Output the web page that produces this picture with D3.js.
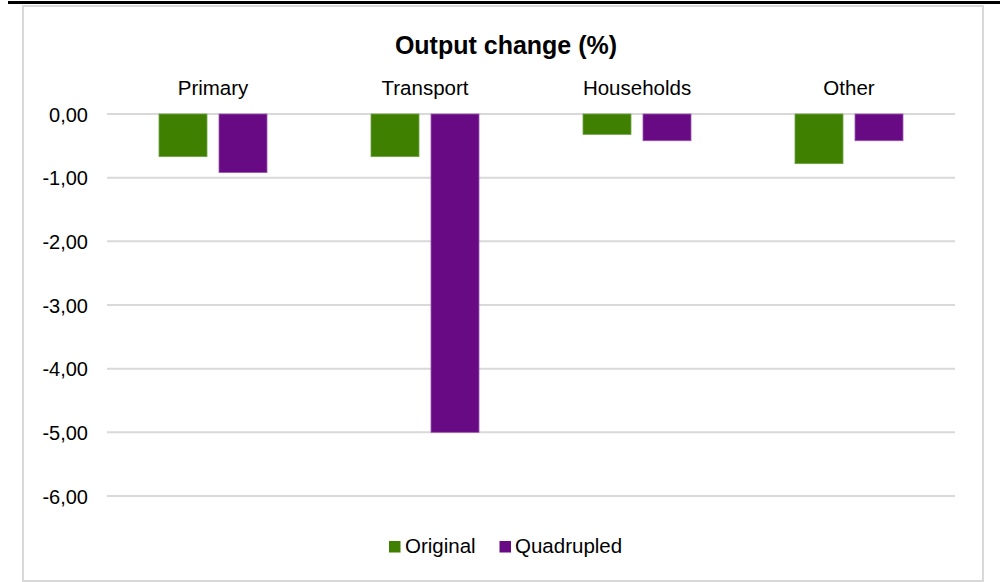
<!DOCTYPE html>
<html>
<head>
<meta charset="utf-8">
<script src="https://cdn.jsdelivr.net/npm/d3@7/dist/d3.min.js"></script>
<style>
  html, body { margin: 0; padding: 0; background: #fff; }
  svg { display: block; }
  text { font-family: "Liberation Sans", Arial, sans-serif; fill: #000; }
</style>
</head>
<body>
<svg id="chart" width="1000" height="582"></svg>
<script>
const categories = ["Primary", "Transport", "Households", "Other"];
const seriesNames = ["Original", "Quadrupled"];
const originalValues = [-0.67, -0.67, -0.32, -0.78];
const quadrupledValues = [-0.92, -5.00, -0.42, -0.42];
const yTickValues = [0, -1, -2, -3, -4, -5, -6];
const yTickLabels = ["0,00", "-1,00", "-2,00", "-3,00", "-4,00", "-5,00", "-6,00"];
const colors = { "Original": "#3f8000", "Quadrupled": "#690a85" };
const strokeColors = { "Original": "#6fa446", "Quadrupled": "#9a58ae" };

const svg = d3.select("#chart");

// top black bar and outer border
svg.append("rect").attr("x", 8).attr("y", 1).attr("width", 992).attr("height", 3).attr("fill", "#000");
svg.append("rect").attr("x", 23).attr("y", 6).attr("width", 960).attr("height", 575)
  .attr("fill", "#fff").attr("stroke", "#d9d9d9").attr("stroke-width", 2);

const x0 = d3.scaleBand().domain(categories).range([107, 955]).paddingInner(0).paddingOuter(0);
const x1 = d3.scaleBand().domain(seriesNames).range([52, 160]).paddingInner(0.2).paddingOuter(0);
const y = d3.scaleLinear().domain([0, -6]).range([114, 496]);

// gridlines
svg.append("g").selectAll("line").data(yTickValues).join("line")
  .attr("x1", 107).attr("x2", 955)
  .attr("y1", d => y(d)).attr("y2", d => y(d))
  .attr("stroke", "#d9d9d9").attr("stroke-width", 2);

// y axis labels
const yAxis = d3.axisLeft(y).tickValues(yTickValues)
  .tickFormat((d, i) => yTickLabels[i]).tickSize(0).tickPadding(0);
const gy = svg.append("g").attr("transform", "translate(88,0)").call(yAxis);
gy.select(".domain").remove();
gy.selectAll("text").attr("font-size", 20).attr("font-family", "Liberation Sans, Arial, sans-serif")
  .attr("fill", "#000").attr("dy", "0.35em");

// category labels on top
const xAxis = d3.axisTop(x0).tickSize(0).tickPadding(0);
const gx = svg.append("g").attr("transform", "translate(0,95)").call(xAxis);
gx.select(".domain").remove();
gx.selectAll("text").attr("font-size", 20.5).attr("font-family", "Liberation Sans, Arial, sans-serif")
  .attr("fill", "#000").attr("dy", 0);

// bars
const rows = categories.map((c, i) => ({
  category: c,
  values: [
    { series: "Original", value: originalValues[i] },
    { series: "Quadrupled", value: quadrupledValues[i] }
  ]
}));

svg.append("g").selectAll("g").data(rows).join("g")
  .attr("transform", d => `translate(${x0(d.category)},0)`)
  .selectAll("rect").data(d => d.values).join("rect")
  .attr("x", d => x1(d.series))
  .attr("width", x1.bandwidth())
  .attr("y", d => y(0))
  .attr("height", d => y(d.value) - y(0))
  .attr("fill", d => colors[d.series])
  .attr("stroke", d => strokeColors[d.series])
  .attr("stroke-width", 0.8);

// title
svg.append("text").attr("x", 506).attr("y", 54).attr("text-anchor", "middle")
  .attr("font-size", 25).attr("font-weight", "bold").text("Output change (%)");

// legend
const legendItems = [
  { name: "Original", sx: 389, tx: 405 },
  { name: "Quadrupled", sx: 499.5, tx: 515 }
];
const lg = svg.append("g");
lg.selectAll("rect").data(legendItems).join("rect")
  .attr("x", d => d.sx).attr("y", 541).attr("width", 11.5).attr("height", 11.5)
  .attr("fill", d => colors[d.name]);
lg.selectAll("text").data(legendItems).join("text")
  .attr("x", d => d.tx).attr("y", 553).attr("font-size", 20.5).text(d => d.name);
</script>
</body>
</html>
